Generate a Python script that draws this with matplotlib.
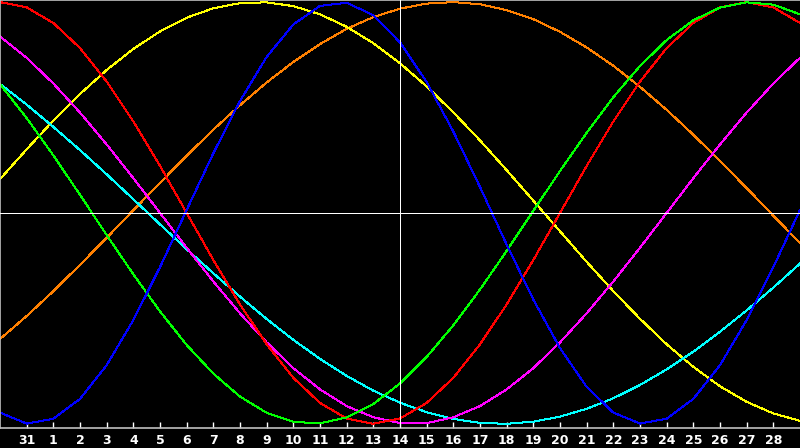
import numpy as np
import matplotlib
matplotlib.use("Agg")
import matplotlib.pyplot as plt

# day labels along the bottom (index 1..29), index 0 and 30 are the edges
day_labels = ["31"] + [str(d) for d in range(1, 29)]
days = np.arange(31)

# curve values (-1 .. 1), one per day
blue = [-0.947, -0.999, -0.976, -0.882, -0.722, -0.508, -0.257, 0.014, 0.283, 0.531,
        0.740, 0.894, 0.982, 0.997, 0.938, 0.809, 0.621, 0.386, 0.123, -0.150,
        -0.411, -0.641, -0.825, -0.947, -0.999, -0.976, -0.882, -0.722, -0.508, -0.257,
        0.014]
red = [1.000, 0.975, 0.901, 0.782, 0.623, 0.434, 0.223, 0.000, -0.223, -0.434,
       -0.623, -0.782, -0.901, -0.975, -1.000, -0.975, -0.901, -0.782, -0.623, -0.434,
       -0.223, 0.000, 0.223, 0.434, 0.623, 0.782, 0.901, 0.975, 1.000, 0.975,
       0.901]
green = [0.611, 0.450, 0.273, 0.086, -0.105, -0.291, -0.467, -0.626, -0.762, -0.871,
         -0.948, -0.991, -0.998, -0.970, -0.906, -0.809, -0.683, -0.533, -0.363, -0.180,
         0.010, 0.199, 0.380, 0.549, 0.697, 0.820, 0.914, 0.974, 0.999, 0.988,
         0.942]
magenta = [0.837, 0.736, 0.614, 0.476, 0.325, 0.165, 0.000, -0.165, -0.325, -0.476,
           -0.614, -0.736, -0.837, -0.916, -0.969, -0.997, -0.997, -0.969, -0.916, -0.837,
           -0.736, -0.614, -0.476, -0.325, -0.165, 0.000, 0.165, 0.325, 0.476, 0.614,
           0.736]
yellow = [0.160, 0.302, 0.438, 0.564, 0.678, 0.778, 0.861, 0.926, 0.971, 0.995,
          0.999, 0.981, 0.942, 0.883, 0.805, 0.710, 0.600, 0.477, 0.344, 0.203,
          0.058, -0.087, -0.232, -0.371, -0.502, -0.623, -0.730, -0.822, -0.896, -0.951,
          -0.986]
orange = [-0.598, -0.489, -0.371, -0.246, -0.118, 0.013, 0.143, 0.271, 0.395, 0.511,
          0.619, 0.716, 0.801, 0.873, 0.929, 0.969, 0.993, 1.000, 0.990, 0.962,
          0.919, 0.859, 0.785, 0.698, 0.598, 0.489, 0.371, 0.246, 0.118, -0.013,
          -0.143]
cyan = [0.612, 0.514, 0.408, 0.298, 0.183, 0.065, -0.054, -0.172, -0.286, -0.397,
        -0.503, -0.602, -0.692, -0.773, -0.843, -0.900, -0.945, -0.977, -0.996, -1.000,
        -0.990, -0.966, -0.929, -0.879, -0.816, -0.742, -0.658, -0.563, -0.462, -0.354,
        -0.240]

today = 15

fig = plt.figure(figsize=(8, 4.48), dpi=100, facecolor="black")
ax = fig.add_axes([0, 20 / 448, 1, 428 / 448])
ax.set_facecolor("black")

series = [
    (orange, "#ff8000"),
    (yellow, "#ffff00"),
    (cyan, "#00ffff"),
    (magenta, "#ff00ff"),
    (red, "#ff0000"),
    (green, "#00ff00"),
    (blue, "#0000ff"),
]
for vals, col in series:
    ax.plot(days, vals, color=col, linewidth=0.72, antialiased=False)

ax.axvline(today, color="white", linewidth=0.72, antialiased=False, zorder=5)
ax.axhline(0, color="white", linewidth=0.72, antialiased=False, zorder=5)

ax.set_xlim(0, 30)
ax.set_ylim(-1.02, 1.01)

ax.set_xticks(days[1:30])
ax.set_xticklabels(day_labels, color="white", fontsize=9, fontweight="bold")
ax.tick_params(axis="x", direction="in", length=4, width=1, color="white", pad=4)
ax.set_yticks([])

for side in ["left", "top", "bottom"]:
    ax.spines[side].set_color("#c0c0c0")
    ax.spines[side].set_linewidth(1.2)
ax.spines["right"].set_visible(False)

fig.savefig("out.png", dpi=100, facecolor="black")
